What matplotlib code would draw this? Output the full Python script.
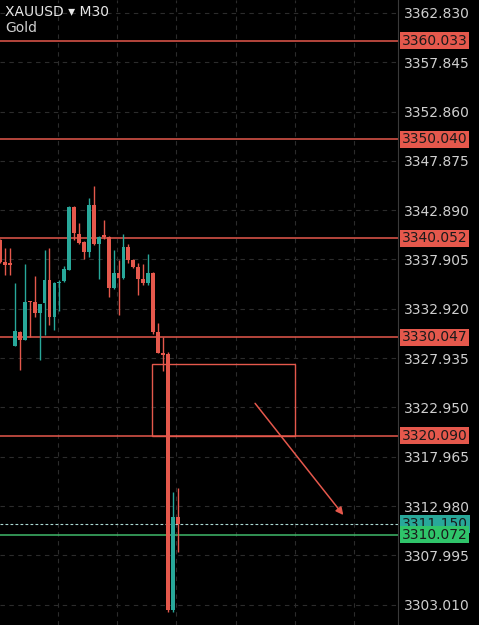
import matplotlib
matplotlib.use('Agg')
import matplotlib.pyplot as plt
import matplotlib.patches as patches
import numpy as np

# 30 分钟K线 (XAUUSD) ===========================================
opens = [3339.9, 3337.7, 3337.35, 3329.2, 3330.6, 3329.8, 3333.6, 3333.6, 3332.5, 3333.5,
         3335.8, 3332.1, 3335.5, 3335.7, 3336.85, 3343.2, 3340.5, 3339.7, 3338.7, 3343.4,
         3339.5, 3340.2, 3340.2, 3335.0, 3336.5, 3336.0, 3339.2, 3337.9, 3337.1, 3335.9,
         3335.5, 3336.5, 3330.6, 3328.5, 3328.3, 3302.5, 3311.9]
closes = [3337.7, 3337.3, 3337.25, 3330.7, 3329.8, 3333.6, 3333.5, 3332.5, 3333.4, 3335.8,
          3332.1, 3335.5, 3335.6, 3336.9, 3343.2, 3340.6, 3339.6, 3338.7, 3343.4, 3339.5,
          3340.2, 3340.1, 3335.0, 3336.5, 3336.0, 3339.2, 3337.9, 3337.1, 3335.9, 3335.5,
          3336.5, 3330.6, 3328.5, 3328.2, 3302.5, 3311.9, 3311.15]
highs = [3340.0, 3339.1, 3339.1, 3335.5, 3330.7, 3337.4, 3333.7, 3336.2, 3333.4, 3338.9,
         3339.1, 3335.6, 3335.8, 3337.2, 3343.3, 3343.3, 3341.6, 3339.8, 3344.1, 3345.3,
         3340.3, 3341.9, 3340.3, 3338.9, 3337.9, 3340.5, 3339.5, 3338.0, 3337.5, 3337.4,
         3338.5, 3336.6, 3331.5, 3330.1, 3328.6, 3314.4, 3314.8]
lows = [3337.6, 3336.3, 3336.3, 3329.2, 3326.7, 3329.8, 3330.1, 3332.1, 3327.7, 3330.3,
        3331.3, 3330.8, 3332.7, 3335.6, 3336.8, 3339.9, 3339.5, 3338.0, 3338.2, 3339.4,
        3335.9, 3340.0, 3334.1, 3334.9, 3332.3, 3335.9, 3337.5, 3337.0, 3334.3, 3335.3,
        3335.3, 3330.4, 3328.4, 3326.6, 3302.3, 3302.3, 3308.3]

levels = [3360.033, 3350.040, 3340.052, 3330.047, 3320.090]
bid_line = 3310.072
last_price = 3311.150
y_ticks = [3362.830, 3357.845, 3352.860, 3347.875, 3342.890, 3337.905, 3332.920,
           3327.935, 3322.950, 3317.965, 3312.980, 3307.995, 3303.010]

# 框和箭头
box_x = (30.7, 59.8)
box_y = (3320.090, 3327.34)
arrow_from = (51.7, 3323.36)
arrow_to = (69.6, 3312.07)

RED = '#e5584c'
TEAL = '#28a89a'
GREEN_LINE = '#3fb96a'
GREEN_BOX = '#2fc46a'
GRID = '#2c2c2c'

fig = plt.figure(figsize=(4.79, 6.25), dpi=100, facecolor='black')
ax = fig.add_axes([0, 0, 398 / 479, 1])
ax.set_facecolor('black')

x = np.arange(len(opens))
o = np.array(opens)
c = np.array(closes)
colors = [TEAL if cc >= oo else RED for oo, cc in zip(o, c)]

ax.vlines(x, lows, highs, colors=colors, lw=1.0, zorder=3)
body = np.where(np.abs(c - o) < 0.15, 0.15, c - o)
ax.bar(x, body, bottom=o, width=0.78, color=colors, zorder=4, linewidth=0)

for lv in levels:
    ax.axhline(lv, color=RED, lw=1.1, zorder=2)
ax.axhline(bid_line, color=GREEN_LINE, lw=1.1, zorder=2)
ax.axhline(last_price, color='#a9d8d2', lw=0.8, ls=(0, (2.5, 2)), zorder=2)

rect = patches.Rectangle((box_x[0], box_y[0]), box_x[1] - box_x[0], box_y[1] - box_y[0],
                         fill=False, ec=RED, lw=1.0, zorder=2)
ax.add_patch(rect)
ax.annotate('', xy=arrow_to, xytext=arrow_from,
            arrowprops=dict(arrowstyle='-|>', color=RED, lw=1.1, mutation_scale=11,
                            shrinkA=0, shrinkB=0), zorder=5)

ax.set_xlim(-0.04, 80.69)
ax.set_ylim(3300.95, 3364.14)

ax.set_xticks([11.75, 23.75, 35.75, 47.75, 59.75, 71.75])
ax.set_yticks(y_ticks)
ax.set_yticklabels(['%.3f' % t for t in y_ticks])
ax.grid(True, color=GRID, lw=0.8, ls=(0, (4, 4)), zorder=0)
ax.yaxis.tick_right()
ax.tick_params(axis='y', length=0, pad=4, labelcolor='#cfcfcf', labelsize=10)
ax.tick_params(axis='x', length=0, labelbottom=False)
for s in ['left', 'top', 'bottom']:
    ax.spines[s].set_visible(False)
ax.spines['right'].set_color('#3a3a3a')
ax.spines['right'].set_linewidth(0.8)

# 右侧价格标签
tr = ax.get_yaxis_transform()
for lv in levels:
    ax.text(1.01, lv, '%.3f' % lv, transform=tr, va='center', ha='left', fontsize=10,
            color='#1a1a1a', clip_on=False, zorder=10,
            bbox=dict(boxstyle='square,pad=0.12', fc=RED, ec='none'))
ax.text(1.01, last_price, '%.3f' % last_price, transform=tr, va='center', ha='left',
        fontsize=10, color='#1a1a1a', clip_on=False, zorder=10,
        bbox=dict(boxstyle='square,pad=0.12', fc=TEAL, ec='none'))
ax.text(1.01, bid_line, '%.3f' % bid_line, transform=tr, va='center', ha='left',
        fontsize=10, color='#1a1a1a', clip_on=False, zorder=11,
        bbox=dict(boxstyle='square,pad=0.12', fc=GREEN_BOX, ec='none'))

fig.text(5 / 479, 1 - 12 / 625, 'XAUUSD \u25be M30', va='center', ha='left',
         color='#e8e8e8', fontsize=10)
fig.text(5 / 479, 1 - 28 / 625, 'Gold', va='center', ha='left', color='#cfcfcf', fontsize=10)

fig.savefig('out.png', dpi=100, facecolor='black')
